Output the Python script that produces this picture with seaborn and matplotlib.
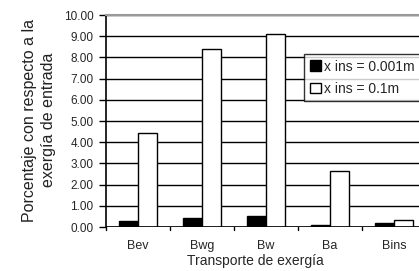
import numpy as np
import pandas as pd
import matplotlib
matplotlib.use('Agg')
import matplotlib.pyplot as plt
import seaborn as sns

categories = ['Bev', 'Bwg', 'Bw', 'Ba', 'Bins']
series_names = ['x ins = 0.001m', 'x ins = 0.1m']
vals_001 = [0.27, 0.42, 0.52, 0.08, 0.18]
vals_01 = [4.45, 8.38, 9.10, 2.62, 0.33]

df = pd.DataFrame({
    'Transporte': categories * 2,
    'Serie': [series_names[0]] * 5 + [series_names[1]] * 5,
    'Valor': vals_001 + vals_01,
})

sns.set_style('white')
plt.rcParams['font.family'] = ['Liberation Sans', 'DejaVu Sans']

fig = plt.figure(figsize=(4.19, 2.71), dpi=100)
ax = fig.add_axes([106 / 419, 44 / 271, 320 / 419, 212 / 271])

sns.barplot(data=df, x='Transporte', y='Valor', hue='Serie',
            palette=['black', 'white'], edgecolor='black', linewidth=1,
            width=0.58, ax=ax, zorder=3)

ax.set_ylim(0, 10)
ax.set_xlim(-0.5, 4.5)
ax.set_yticks(np.arange(0, 11, 1))
ax.set_yticklabels([f'{v:.2f}' for v in np.arange(0, 11, 1)], fontsize=8.5)
ax.set_xticks(range(5))
ax.set_xticklabels(categories, fontsize=9)
ax.grid(axis='y', color='black', linewidth=1, zorder=0)
ax.set_axisbelow(True)

for s in ['right', 'bottom']:
    ax.spines[s].set_visible(False)
ax.spines['left'].set_color('black')
ax.spines['left'].set_linewidth(1.2)
ax.spines['top'].set_color('#999999')
ax.spines['top'].set_linewidth(1.5)
ax.axhline(0, color='black', linewidth=1.2, zorder=4)

ax.tick_params(axis='y', left=True, length=5, width=1, color='black', pad=4)
ax.tick_params(axis='x', bottom=False, pad=6)
# category separators below the axis
for b in np.arange(-0.5, 5, 1):
    ax.plot([b, b], [0, -0.15], color='black', linewidth=1, clip_on=False)

ax.set_xlabel('')
ax.set_ylabel('')
fig.text(255 / 419, 1 - 261 / 271, 'Transporte de exergía',
         ha='center', va='center', fontsize=10)
fig.text(39 / 419, 1 - 120 / 271,
         'Porcentaje con respecto a la\nexergía de entrada',
         rotation=90, ha='center', va='center', fontsize=11.5,
         linespacing=1.3, color='#222222')

leg = ax.legend(loc='upper left', bbox_to_anchor=(0.62, 0.816), fontsize=10,
                frameon=True, fancybox=False, edgecolor='black',
                handlelength=0.8, handleheight=0.8, handletextpad=0.2,
                borderpad=0.4, labelspacing=0.6, borderaxespad=0)
leg.get_frame().set_linewidth(1)

fig.savefig('out.png', dpi=100)
